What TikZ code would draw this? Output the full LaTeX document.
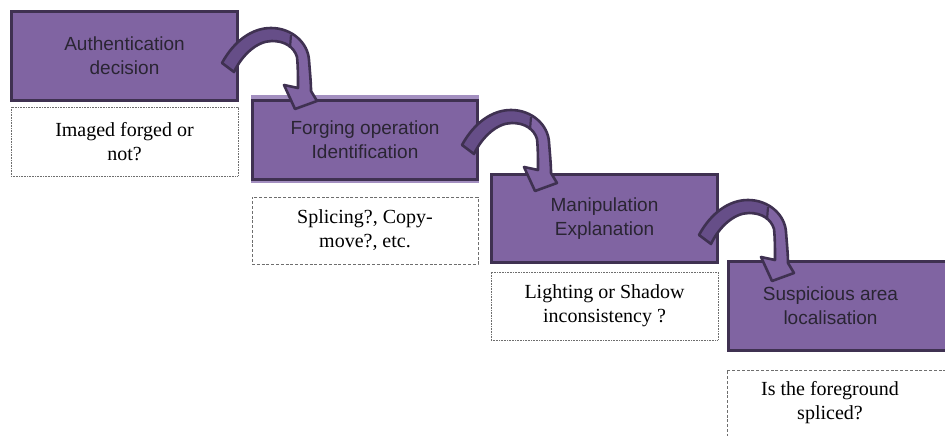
\documentclass[tikz,border=0pt]{standalone}
\usepackage{fontspec}
\setmainfont{Liberation Serif}
\newfontfamily\stagefont{Liberation Sans}

\definecolor{stagefill}{HTML}{8064A2}
\definecolor{stageline}{HTML}{3F3151}
\definecolor{stagelight}{HTML}{A38FC0}
\definecolor{stagetext}{HTML}{2A2533}
\definecolor{arrowdark}{HTML}{664E88}
\definecolor{noteline}{HTML}{6E6E6E}

\tikzset{
  stagebox/.style={draw=stageline, line width=3pt, fill=stagefill, text=stagetext,
    font=\stagefont\fontsize{19}{24}\selectfont, align=center, inner sep=0pt},
  notebox/.style={draw=noteline, line width=0.8pt, fill=white, text=black,
    font=\fontsize{20}{24}\selectfont, align=center, inner sep=0pt},
  dotline/.style={dash pattern=on 0.8pt off 0.8pt},
  dashline/.style={dash pattern=on 3pt off 1.8pt},
  % curved "next step" arrow, origin at the outer corner of its tail
  flowarrow/.pic={
    \fill[stagefill] (0,0) .. controls (12,-22) and (30,-35) .. (49,-35)
      .. controls (70,-35) and (86,-20) .. (87,-3)
      .. controls (88,10) and (89,20) .. (89,28) -- (95,38) -- (73,46) -- (62,22) -- (76,25)
      .. controls (76,15) and (76,3) .. (75,-6)
      .. controls (72,-16) and (63,-22) .. (50,-22)
      .. controls (35,-22) and (20,-8) .. (12,9) -- cycle;
    % darker back face of the twisted band
    \fill[arrowdark] (0,0) .. controls (12,-22) and (30,-35) .. (49,-35)
      .. controls (58,-35) and (64,-32) .. (69,-28) -- (68,-15)
      .. controls (63,-20) and (57,-22) .. (50,-22)
      .. controls (35,-22) and (20,-8) .. (12,9) -- cycle;
    \draw[stageline, line width=2.2pt, line join=round] (69,-28) -- (68,-15);
    \draw[stageline, line width=2.6pt, line join=round] (0,0) .. controls (12,-22) and (30,-35) .. (49,-35)
      .. controls (70,-35) and (86,-20) .. (87,-3)
      .. controls (88,10) and (89,20) .. (89,28) -- (95,38) -- (73,46) -- (62,22) -- (76,25)
      .. controls (76,15) and (76,3) .. (75,-6)
      .. controls (72,-16) and (63,-22) .. (50,-22)
      .. controls (35,-22) and (20,-8) .. (12,9) -- cycle;
  }
}

\begin{document}
\begin{tikzpicture}[x=1pt, y=-1pt]
\useasboundingbox (0,0) rectangle (945,436);
\clip (0,0) rectangle (945,436);
\fill[white] (0,0) rectangle (945,436);

% stages
\node[stagebox, minimum width=226pt, minimum height=89pt] (b1) at (124.5,56) {Authentication\\decision};
\fill[stagelight] (251,95) rectangle (479,183);
\node[stagebox, minimum width=225pt, minimum height=79pt] (b2) at (365,140) {Forging operation\\Identification};
\node[stagebox, minimum width=226pt, minimum height=88pt] (b3) at (604.5,218.5) {Manipulation\\Explanation};
\node[stagebox, minimum width=232pt, minimum height=89pt,
  label={[stagebox, draw=none, fill=none, xshift=-14pt]center:Suspicious area\\localisation}] (b4) at (844.5,306) {};

% questions under each stage
\node[notebox, dotline, minimum width=227pt, minimum height=69pt] (n1) at (124.5,141.5) {Imaged forged or\\not?};
\node[notebox, dashline, minimum width=226pt, minimum height=67pt] (n2) at (365,230.5) {Splicing?, Copy-\\move?, etc.};
\node[notebox, dotline, minimum width=227pt, minimum height=68pt] (n3) at (604.5,306) {Lighting or Shadow\\inconsistency ?};
\node[notebox, dashline, minimum width=233pt, minimum height=75pt,
  label={[notebox, draw=none, fill=none, xshift=-13.5pt, yshift=5pt]center:Is the foreground\\spliced?}] (n4) at (843.5,407.5) {};

% arrows from stage to stage
\pic at (222,63) {flowarrow};
\pic at (462,145) {flowarrow};
\pic at (699,235) {flowarrow};
\end{tikzpicture}
\end{document}
